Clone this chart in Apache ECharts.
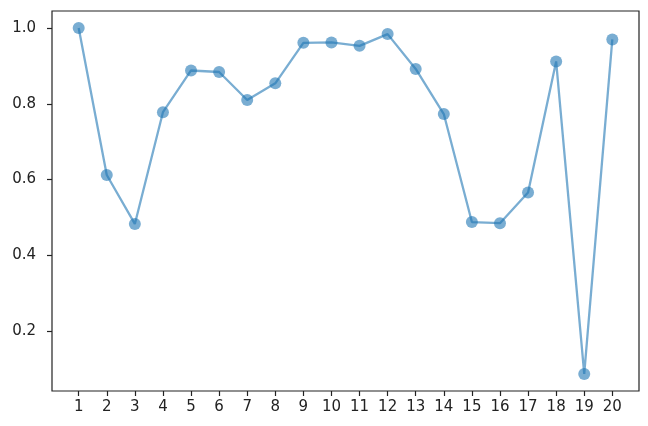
<!DOCTYPE html>
<html>
<head>
<meta charset="utf-8">
<script src="https://cdn.jsdelivr.net/npm/echarts@6/dist/echarts.min.js"></script>
<style>
  html, body { margin: 0; padding: 0; background: #fff; }
  #chart { width: 648px; height: 426px; }
</style>
</head>
<body>
<div id="chart"></div>
<script>
// x positions and values
const xValues = [1, 2, 3, 4, 5, 6, 7, 8, 9, 10, 11, 12, 13, 14, 15, 16, 17, 18, 19, 20];
const yValues = [1.0, 0.612, 0.483, 0.778, 0.888, 0.884, 0.81, 0.854, 0.961, 0.962,
                 0.953, 0.984, 0.892, 0.773, 0.488, 0.485, 0.566, 0.912, 0.087, 0.97];
const yTicks = [0.2, 0.4, 0.6, 0.8, 1.0];

const textStyle = { color: "#222", fontSize: 15, fontFamily: "DejaVu Sans" };

const chart = echarts.init(document.getElementById("chart"));
chart.setOption({
  animation: false,
  grid: {
    show: true,
    left: 52, top: 11, right: 9, bottom: 35,
    borderColor: "#222",
    borderWidth: 1.2,
    backgroundColor: "#fff",
  },
  xAxis: {
    type: "value",
    min: 0.05,
    max: 20.95,
    axisLine: { show: false },
    splitLine: { show: false },
    axisTick: { show: true, inside: false, length: 5, customValues: xValues, lineStyle: { color: "#222", width: 1.2 } },
    axisLabel: { ...textStyle, margin: 9, customValues: xValues, formatter: (v) => String(Math.round(v)) },
  },
  yAxis: {
    type: "value",
    min: 0.042,
    max: 1.045,
    axisLine: { show: false },
    splitLine: { show: false },
    axisTick: { show: true, inside: false, length: 5, customValues: yTicks, lineStyle: { color: "#222", width: 1.2 } },
    axisLabel: { ...textStyle, margin: 16, customValues: yTicks, formatter: (v) => v.toFixed(1) },
  },
  series: [
    {
      type: "line",
      data: xValues.map((x, i) => [x, yValues[i]]),
      symbol: "circle",
      symbolSize: 12,
      itemStyle: { color: "#1f77b4", opacity: 0.6, borderWidth: 0 },
      lineStyle: { color: "#1f77b4", width: 2.3, opacity: 0.6 },
      emphasis: { disabled: true },
    },
  ],
});
</script>
</body>
</html>
